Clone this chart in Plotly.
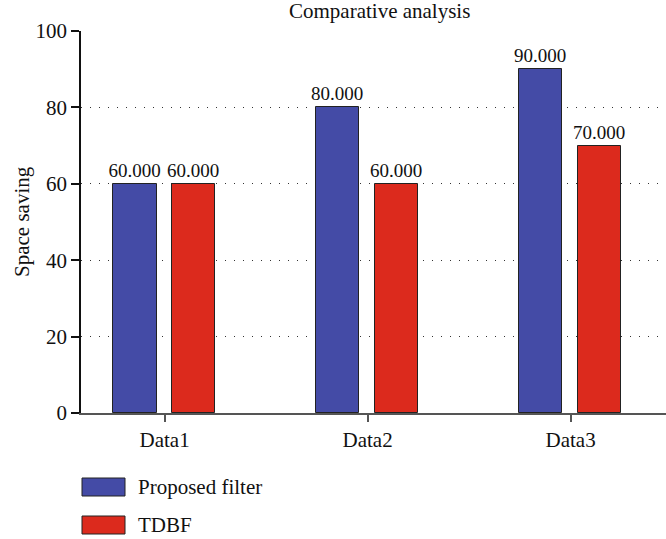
import plotly.graph_objects as go

categories = ["Data1", "Data2", "Data3"]
proposed_filter = [60, 80, 90]
tdbf = [60, 60, 70]
y_ticks = [0, 20, 40, 60, 80, 100]
series_names = ["Proposed filter", "TDBF"]

BLUE = "#444ba6"
RED = "#dc2a1d"
FONT = "Liberation Serif"
FS = 21
LFS = 19

L, T, R, B = 81, 31, 666, 413
W, H = 666, 539
pw, ph = R - L, B - T

def px_x(x):
    return (x - L) / pw

def px_y(y):
    return (B - y) / ph

fig = go.Figure()
fig.add_trace(go.Bar(
    x=list(range(len(categories))), y=proposed_filter, name=series_names[0],
    width=0.213, offset=-0.253,
    marker=dict(color=BLUE, line=dict(color="#222222", width=1)),
    text=[f"{v:.3f}" for v in proposed_filter], textposition="outside",
    constraintext="none",
    textfont=dict(family=FONT, size=LFS, color="#111111"), cliponaxis=False,
    showlegend=False,
))
fig.add_trace(go.Bar(
    x=list(range(len(categories))), y=tdbf, name=series_names[1],
    width=0.213, offset=0.037,
    marker=dict(color=RED, line=dict(color="#222222", width=1)),
    text=[f"{v:.3f}" for v in tdbf], textposition="outside",
    constraintext="none",
    textfont=dict(family=FONT, size=LFS, color="#111111"), cliponaxis=False,
    showlegend=False,
))

shapes = []
annotations = []
colors = [BLUE, RED]
legend_y = [(478, 496), (516, 534)]
for name, col, (y0, y1) in zip(series_names, colors, legend_y):
    shapes.append(dict(type="rect", xref="paper", yref="paper",
                       x0=px_x(82), x1=px_x(125), y0=px_y(y1), y1=px_y(y0),
                       fillcolor=col, line=dict(color="#222222", width=1)))
    annotations.append(dict(xref="paper", yref="paper", x=px_x(136), y=px_y((y0 + y1) / 2),
                            text=name, showarrow=False, xanchor="left", yanchor="middle",
                            font=dict(family=FONT, size=FS, color="#111111")))

annotations.append(dict(xref="paper", yref="paper", x=px_x(379), y=px_y(11),
                        text="Comparative analysis", showarrow=False,
                        xanchor="center", yanchor="middle",
                        font=dict(family=FONT, size=FS, color="#111111")))
annotations.append(dict(xref="paper", yref="paper", x=px_x(22), y=px_y(222),
                        text="Space saving", showarrow=False, textangle=-90,
                        xanchor="center", yanchor="middle",
                        font=dict(family=FONT, size=FS, color="#111111")))

fig.update_layout(
    width=W, height=H,
    margin=dict(l=L, r=W - R, t=T, b=H - B, pad=0),
    paper_bgcolor="white", plot_bgcolor="white",
    font=dict(family=FONT, size=FS, color="#111111"),
    shapes=shapes, annotations=annotations,
    bargap=0, showlegend=False,
)
fig.update_xaxes(
    tickmode="array", tickvals=list(range(len(categories))), ticktext=categories,
    range=[-0.412, 2.47], showgrid=False, zeroline=False,
    showline=True, linecolor="#555555", linewidth=1.5,
    ticks="outside", ticklen=7, tickcolor="#555555", tickwidth=1.5,
    tickfont=dict(family=FONT, size=FS, color="#111111"),
)
fig.update_yaxes(
    range=[0, 100], tickvals=y_ticks, showgrid=True,
    gridcolor="#333333", griddash="1px,8px", gridwidth=1,
    zeroline=False, showline=True, linecolor="#111111", linewidth=1.5,
    ticks="outside", ticklen=8, tickcolor="#111111", tickwidth=1.5,
    tickfont=dict(family=FONT, size=FS, color="#111111"),
)

fig.write_html(
    "out.html",
    config={"displayModeBar": False},
    post_script="document.body.style.margin='0';document.body.style.overflow='hidden';",
)
